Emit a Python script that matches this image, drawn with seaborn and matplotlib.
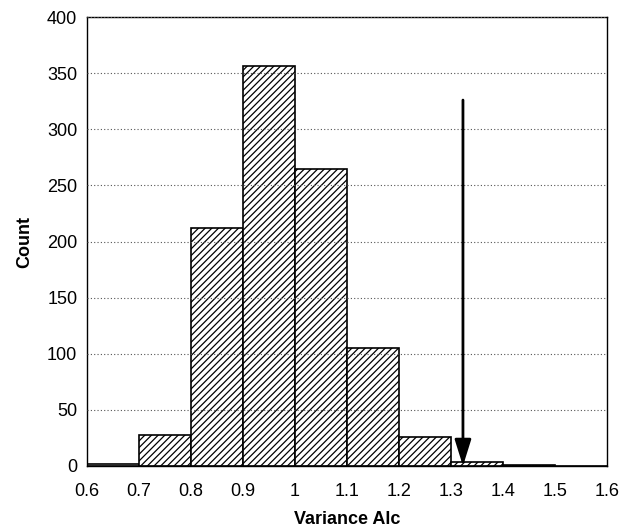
import matplotlib
matplotlib.use("Agg")
import matplotlib.pyplot as plt
import seaborn as sns
import numpy as np

bin_edges = [0.6, 0.7, 0.8, 0.9, 1.0, 1.1, 1.2, 1.3, 1.4, 1.5, 1.6]
counts = [2, 28, 212, 356, 265, 105, 26, 4, 1, 0]
hatched = [False, True, True, True, True, True, True, True, False, False]
arrow_x = 1.323
arrow_top = 326
xticks = [0.6, 0.7, 0.8, 0.9, 1, 1.1, 1.2, 1.3, 1.4, 1.5, 1.6]
xtick_labels = ["0.6", "0.7", "0.8", "0.9", "1", "1.1", "1.2", "1.3", "1.4", "1.5", "1.6"]
yticks = [0, 50, 100, 150, 200, 250, 300, 350, 400]

sns.set_style("white")
plt.rcParams['font.family'] = ['Liberation Sans', 'DejaVu Sans']
plt.rcParams['hatch.linewidth'] = 0.9
plt.rcParams['text.color'] = 'black'
plt.rcParams['axes.labelcolor'] = 'black'
plt.rcParams['xtick.color'] = 'black'
plt.rcParams['ytick.color'] = 'black'

fig = plt.figure(figsize=(6.29, 5.32), dpi=100)
ax = fig.add_axes([87/629, 1 - 466/532, 520/629, 449/532])

centers = [(bin_edges[i] + bin_edges[i + 1]) / 2 for i in range(len(counts))]
sns.histplot(x=centers, weights=counts, bins=bin_edges, ax=ax,
             color="white", edgecolor="black", linewidth=1.2, alpha=1)
for p, h in zip(ax.patches, hatched):
    if h:
        p.set_hatch('/////')

ax.set_xlim(0.6, 1.6)
ax.set_ylim(0, 400)
ax.set_xticks(xticks)
ax.set_xticklabels(xtick_labels)
ax.set_yticks(yticks)
ax.yaxis.grid(True, linestyle=(0, (1, 2)), color="#555555", linewidth=0.8)
ax.set_axisbelow(False)
ax.tick_params(axis='both', labelsize=13, direction='in', length=4, width=1,
               labelcolor='black', color='black')
ax.tick_params(axis='x', length=0, pad=12)
ax.tick_params(axis='y', pad=7)
for s in ax.spines.values():
    s.set_linewidth(1.0)
    s.set_color("black")

ax.annotate("", xy=(arrow_x, 0), xytext=(arrow_x, arrow_top),
            arrowprops=dict(arrowstyle="-|>,head_length=1.6,head_width=0.5",
                            color="black", lw=2, shrinkA=0, shrinkB=0))

ax.set_xlabel("Variance Alc", fontsize=13, fontweight="bold", labelpad=8, color='black')
ax.set_ylabel("Count", fontsize=13, fontweight="bold", labelpad=10, color='black')

fig.savefig("out.png", dpi=100)
